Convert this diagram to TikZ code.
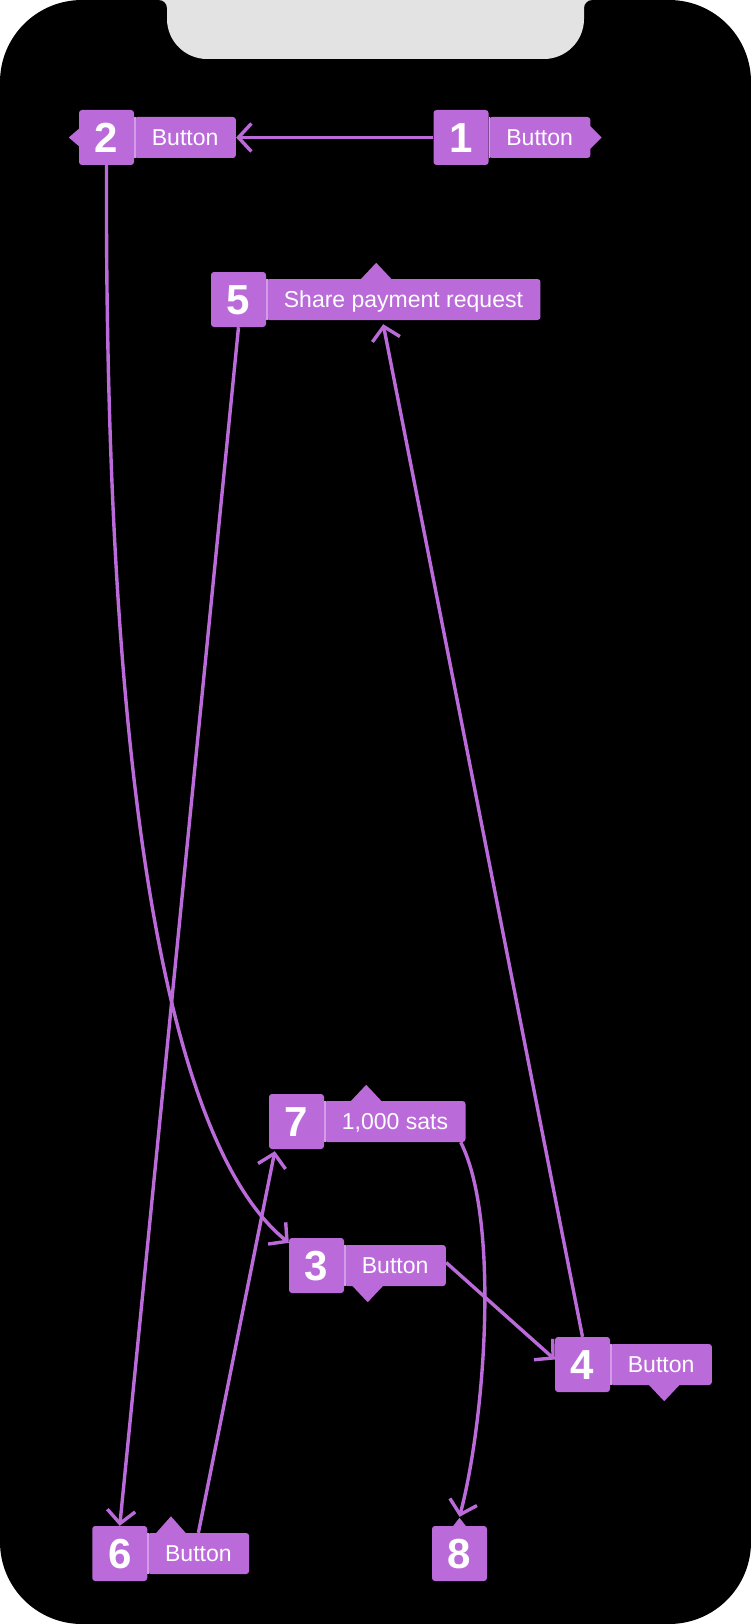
\documentclass[tikz,border=0pt]{standalone}
\usepackage{fontspec}
\setmainfont{Liberation Sans}
\usetikzlibrary{arrows.meta,calc}
\definecolor{purp}{HTML}{BB6BD9}
\definecolor{purpl}{HTML}{D39BE8}
\definecolor{notchgray}{HTML}{E3E3E3}
\begin{document}
\begin{tikzpicture}[x=1pt,y=-1pt,
  numbox/.style={fill=purp, rounded corners=3pt, minimum width=55pt, minimum height=55pt,
    inner sep=0pt, text=white, text height=30pt, text depth=0pt,
    font=\fontsize{42}{42}\selectfont\bfseries},
  labbox/.style={fill=purp, rounded corners=3pt, minimum height=41pt, inner xsep=17.5pt,
    inner ysep=0pt, text=white, text height=16.5pt, text depth=0pt,
    font=\fontsize{23}{23}\selectfont, anchor=west},
  conn/.style={draw=purp, line width=3.4pt, -{Straight Barb[length=13pt,width=28pt]}},
  divider/.style={draw=purpl, line width=1.5pt},
]
\useasboundingbox (0,0) rectangle (751,1624);
\fill[white] (0,0) rectangle (751,1624);
\fill[black, rounded corners=82pt] (0,0) rectangle (751,1624);
\fill[notchgray] (159,0) .. controls (163.4,0) and (167,3.6) .. (167,8) -- (167,19)
  .. controls (167,41) and (185,59) .. (207,59) -- (544,59)
  .. controls (566,59) and (584,41) .. (584,19) -- (584,8)
  .. controls (584,3.6) and (587.6,0) .. (592,0) -- cycle;

% nodes
\node[numbox] (n1) at (461,137.5) {1};
\node[labbox] (l1) at (n1.east) {Button};
\node[numbox] (n2) at (106.5,137.5) {2};
\node[labbox] (l2) at (n2.east) {Button};
\node[numbox] (n5) at (238.5,299.5) {5};
\node[labbox] (l5) at (n5.east) {Share payment request};
\node[numbox] (n7) at (296.5,1121.5) {7};
\node[labbox] (l7) at (n7.east) {1,000 sats};
\node[numbox] (n3) at (316.5,1265.5) {3};
\node[labbox] (l3) at (n3.east) {Button};
\node[numbox] (n4) at (582.5,1364.5) {4};
\node[labbox] (l4) at (n4.east) {Button};
\node[numbox] (n6) at (119.75,1553.5) {6};
\node[labbox] (l6) at (n6.east) {Button};
\node[numbox] (n8) at (459.5,1553.5) {8};

% dividers
\foreach \l in {l1,l2,l5,l7,l3,l4,l6}{
  \draw[divider] ($(\l.north west)+(0.75,0)$) -- ($(\l.south west)+(0.75,0)$);
}

% pointers
\fill[purp] ($(l1.east)+(-1,-12)$) -- ($(l1.east)+(11,0)$) -- ($(l1.east)+(-1,12)$) -- cycle;
\fill[purp] ($(n2.west)+(1,-9.5)$) -- ($(n2.west)+(-10,0)$) -- ($(n2.west)+(1,9.5)$) -- cycle;
\fill[purp] ($(l5.north west)+(94,1)$) -- ($(l5.north west)+(110,-16)$) -- ($(l5.north west)+(126,1)$) -- cycle;
\fill[purp] ($(l7.north west)+(26,1)$) -- ($(l7.north west)+(42,-16)$) -- ($(l7.north west)+(58,1)$) -- cycle;
\fill[purp] ($(l3.south west)+(7.5,-1)$) -- ($(l3.south west)+(23.5,16)$) -- ($(l3.south west)+(39.5,-1)$) -- cycle;
\fill[purp] ($(l4.south west)+(38,-1)$) -- ($(l4.south west)+(54,16)$) -- ($(l4.south west)+(70,-1)$) -- cycle;
\fill[purp] ($(l6.north west)+(8,1)$) -- ($(l6.north west)+(23.5,-16.5)$) -- ($(l6.north west)+(39,1)$) -- cycle;
\fill[purp] ($(n8.north)+(-7,1)$) -- ($(n8.north)+(0,-8)$) -- ($(n8.north)+(7,1)$) -- cycle;

% connectors
\draw[conn] (n1.west) -- (l2.east);
\draw[conn] (n2.south) .. controls (104,950) and (205,1175) .. ($(n3.north west)+(0,5)$);
\draw[conn] ($(l3.east)+(0,-3)$) -- ($(n4.west)+(0,-5)$);
\draw[conn] (n4.north) -- ($(l5.south west)+(117,4)$);
\draw[conn] (n5.south) -- (n6.north);
\draw[conn] (l6.north) -- ($(n7.south west)+(6,2)$);
\draw[conn] ($(l7.south east)+(-5,0)$) .. controls (500,1220) and (485,1420) .. ($(n8.north)+(0,-9)$);
\end{tikzpicture}
\end{document}
